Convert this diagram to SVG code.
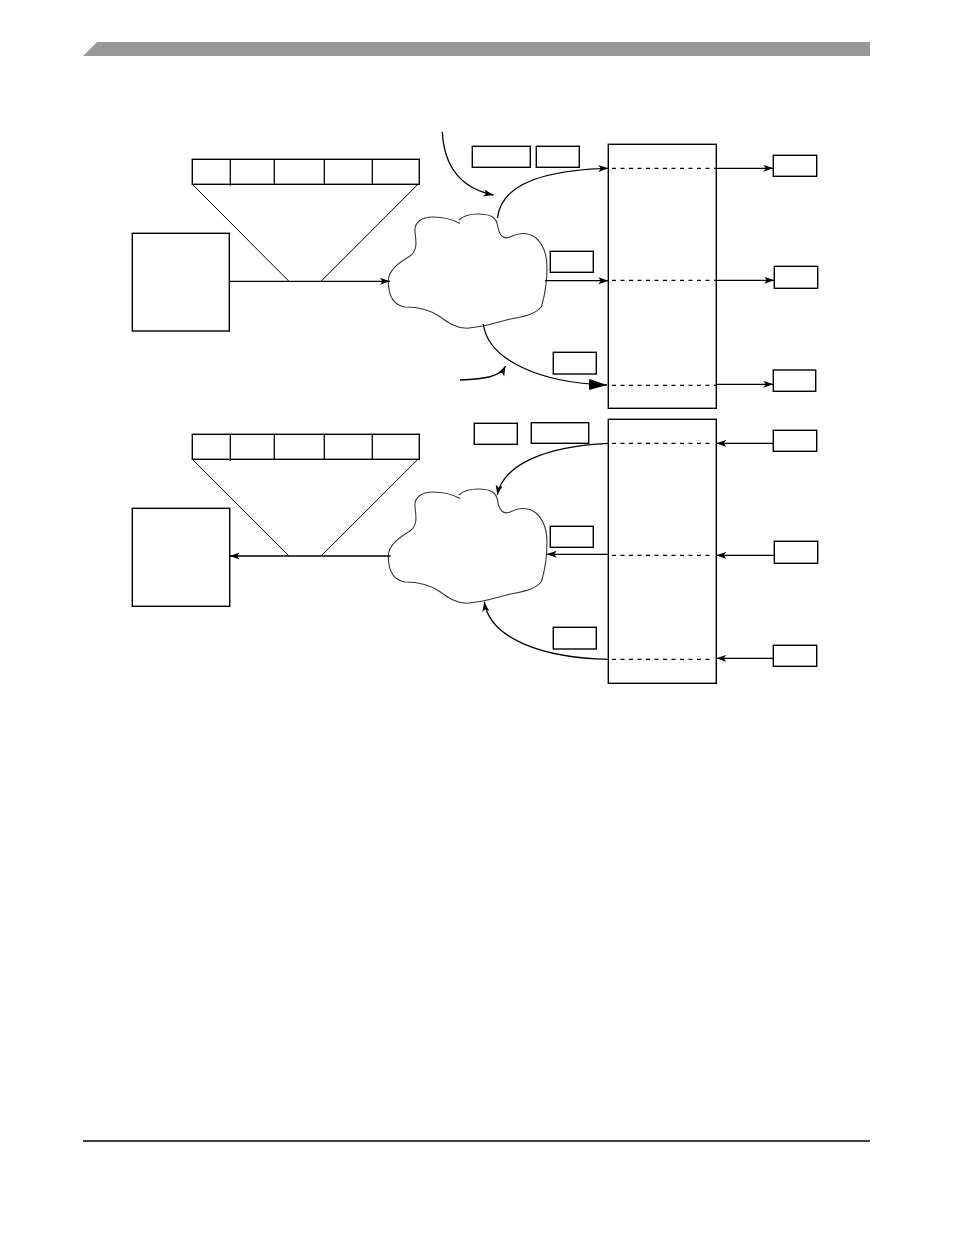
<svg xmlns="http://www.w3.org/2000/svg" width="954" height="1235" viewBox="0 0 954 1235">
<style>
.box{fill:#fff;stroke:#000;stroke-width:1.4}
.thin{fill:none;stroke:#000;stroke-width:1}
.ln{fill:none;stroke:#000;stroke-width:1.3}
.dash{fill:none;stroke:#000;stroke-width:1.2;stroke-dasharray:4 4.5}
.cloud{fill:#fff;stroke:#333;stroke-width:1.1}
</style>
<defs>
<marker id="ah" markerUnits="userSpaceOnUse" markerWidth="12" markerHeight="8" refX="10" refY="3.5" orient="auto">
<path d="M0,0 L10,3.5 L0,7 L2.5,3.5 Z" fill="#000"/>
</marker>
<marker id="big" markerUnits="userSpaceOnUse" markerWidth="20" markerHeight="12" refX="18" refY="5.5" orient="auto">
<path d="M0,0 L18,5.5 L0,11 Z" fill="#000"/>
</marker>
<path id="cloudshape" d="M459,220 C463,216 470,214 478,214 C490,214 496,217 497.5,225 C499,235 503,240 510,237 C518,233 528,232 536,238 C544,245 547,256 547,268 C547,285 544,298 541.5,306.5 C536,314 525,316 513,318.5 C500,321 490,326 467,328.3 C455,328 446,321 440,316.7 C432,311 421,307 405,307 C393,305 388.5,295 388.3,281.7 C388,270 400,262 410,256 C418,250 416,241 415,232 C414,222 422,217 433,217 C443,217 452,219 460,223.5"/>
</defs>
<rect width="954" height="1235" fill="#fff"/>
<g id="header"><polygon points="83,56 97,42 870,42 870,56" fill="#999"/></g>
<g id="footer"><line x1="83" y1="1141" x2="870" y2="1141" stroke="#000" stroke-width="1.5"/></g>

<!-- upper half -->
<g id="reg-top">
<rect class="box" x="192.3" y="159.3" width="227" height="25"/>
<line class="ln" x1="230.3" y1="159.3" x2="230.3" y2="185.7"/>
<line class="ln" x1="274.3" y1="159.3" x2="274.3" y2="184.3"/>
<line class="ln" x1="324.3" y1="159.3" x2="324.3" y2="184.3"/>
<line class="ln" x1="372.3" y1="159.3" x2="372.3" y2="184.3"/>
<line class="thin" x1="192.5" y1="184.5" x2="289" y2="281.3" stroke="#666"/>
<line class="thin" x1="417.7" y1="184.5" x2="321" y2="281.3"/>
</g>
<g id="src-top"><rect class="box" x="132.3" y="233.3" width="97" height="97.7"/></g>
<g id="cloud-top"><use href="#cloudshape" class="cloud"/></g>
<g id="lbl-top-1"><rect class="box" x="472.3" y="146.3" width="58" height="21"/></g>
<g id="lbl-top-2"><rect class="box" x="536.3" y="146.3" width="43" height="21"/></g>
<g id="lbl-top-3"><rect class="box" x="550.3" y="251.3" width="43" height="21"/></g>
<g id="lbl-top-4"><rect class="box" x="553.3" y="352.3" width="43" height="21.7"/></g>
<g id="buf-top">
<rect class="box" x="608.3" y="144.3" width="108" height="264"/>
<line class="dash" x1="612" y1="168.3" x2="716" y2="168.3"/>
<line class="dash" x1="612" y1="280.3" x2="716" y2="280.3"/>
<line class="dash" x1="612" y1="385.3" x2="716" y2="385.3"/>
</g>
<g id="out-top-1"><rect class="box" x="773.3" y="155.3" width="43.4" height="21"/></g>
<g id="out-top-2"><rect class="box" x="774.3" y="266.3" width="43.4" height="22"/></g>
<g id="out-top-3"><rect class="box" x="773.3" y="370" width="42.4" height="21.3"/></g>

<!-- lower half -->
<g id="reg-bot">
<rect class="box" x="192.3" y="434.3" width="227" height="25"/>
<line class="ln" x1="230.3" y1="434.3" x2="230.3" y2="460.7"/>
<line class="ln" x1="274.3" y1="434.3" x2="274.3" y2="459.3"/>
<line class="ln" x1="324.3" y1="434.3" x2="324.3" y2="459.3"/>
<line class="ln" x1="372.3" y1="434.3" x2="372.3" y2="459.3"/>
<line class="thin" x1="192.5" y1="459.5" x2="289" y2="556"/>
<line class="thin" x1="417.7" y1="459.5" x2="321" y2="556"/>
</g>
<g id="dst-bot"><rect class="box" x="132.3" y="508.3" width="97.4" height="98"/></g>
<g id="cloud-bot"><use href="#cloudshape" class="cloud" transform="translate(0,275)"/></g>
<g id="lbl-bot-1"><rect class="box" x="474.3" y="423.3" width="43" height="21"/></g>
<g id="lbl-bot-2"><rect class="box" x="531.3" y="422.7" width="57.4" height="20.6"/></g>
<g id="lbl-bot-3"><rect class="box" x="550.3" y="526.3" width="43" height="21"/></g>
<g id="lbl-bot-4"><rect class="box" x="553.3" y="627.3" width="43" height="21.7"/></g>
<g id="buf-bot">
<rect class="box" x="608.3" y="419.3" width="108" height="264"/>
<line class="dash" x1="612" y1="443.3" x2="712" y2="443.3"/>
<line class="dash" x1="612" y1="555.3" x2="712" y2="555.3"/>
<line class="dash" x1="612" y1="659.3" x2="712" y2="659.3"/>
</g>
<g id="in-bot-1"><rect class="box" x="773.3" y="430.3" width="43.4" height="21"/></g>
<g id="in-bot-2"><rect class="box" x="774.3" y="541.3" width="43.4" height="22"/></g>
<g id="in-bot-3"><rect class="box" x="773.3" y="645.3" width="43.4" height="21"/></g>

<g id="connectors">
<line class="ln" x1="229.3" y1="281.3" x2="390" y2="281.3" marker-end="url(#ah)"/>
<path class="ln" d="M442.3,131.7 C444,165 460,188 493.5,195" marker-end="url(#ah)"/>
<path class="ln" d="M497.5,218 C501,185 540,170 608.3,168.3" marker-end="url(#ah)"/>
<line class="ln" x1="545" y1="280.7" x2="608.3" y2="280.7" marker-end="url(#ah)"/>
<path class="ln" d="M483.3,324 C488,360 540,383 607,385" marker-end="url(#big)"/>
<path class="ln" d="M460,380 C485,379 500,377 505.5,366" marker-end="url(#ah)"/>
<line class="ln" x1="716.3" y1="168.3" x2="773.3" y2="168.3" marker-end="url(#ah)"/>
<line class="ln" x1="716.3" y1="280.3" x2="774.3" y2="280.3" marker-end="url(#ah)"/>
<line class="ln" x1="716.3" y1="384.3" x2="773.3" y2="384.3" marker-end="url(#ah)"/>

<line class="ln" x1="390.7" y1="556" x2="229.7" y2="556" marker-end="url(#ah)"/>
<path class="ln" d="M608.3,443.3 C545,446 503,465 497.3,495" marker-end="url(#ah)"/>
<line class="ln" x1="608.3" y1="554.3" x2="546.7" y2="554.3" marker-end="url(#ah)"/>
<path class="ln" d="M608.3,659.3 C545,658 490,640 484.3,601.7" marker-end="url(#ah)"/>
<line class="ln" x1="773.3" y1="443.3" x2="716.3" y2="443.3" marker-end="url(#ah)"/>
<line class="ln" x1="774.3" y1="555.3" x2="716.3" y2="555.3" marker-end="url(#ah)"/>
<line class="ln" x1="773.3" y1="658.3" x2="716.3" y2="658.3" marker-end="url(#ah)"/>
</g>
</svg>
